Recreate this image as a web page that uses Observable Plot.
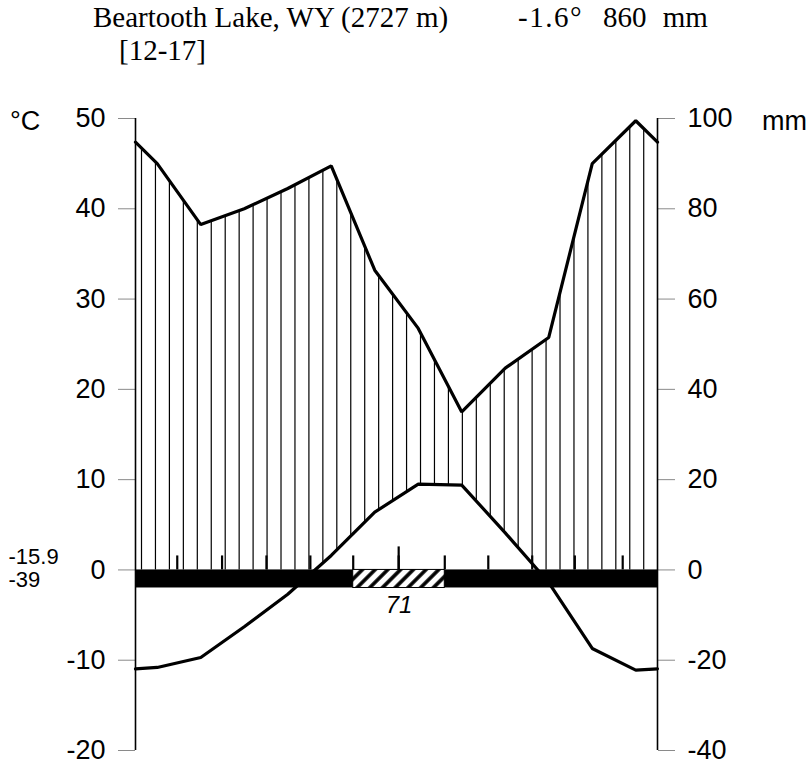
<!DOCTYPE html>
<html>
<head>
<meta charset="utf-8">
<script src="https://cdn.jsdelivr.net/npm/d3@7"></script>
<script src="https://cdn.jsdelivr.net/npm/@observablehq/plot@0.6"></script>
<style>
  html, body { margin: 0; padding: 0; background: #fff; }
  #wrap { position: relative; width: 810px; height: 765px; }
  .lbl { position: absolute; white-space: pre; line-height: 1; color: #000; }
  .serif { font-family: "Liberation Serif", "Times New Roman", serif; font-size: 29px; }
  .sans { font-family: "Liberation Sans", Arial, sans-serif; font-size: 27px; }
</style>
</head>
<body>
<div id="wrap">
  <div id="chart"></div>
</div>
<script>
// ---- data ----
const months = ["Jan","Feb","Mar","Apr","May","Jun","Jul","Aug","Sep","Oct","Nov","Dec"];
const tempC  = [-10.8, -9.7, -6.3, -2.7, 1.6, 6.4, 9.5, 9.4, 4.1, -1.4, -8.7, -11.1];
const precMm = [90, 76.5, 80, 84.5, 89.5, 66.4, 53.5, 35, 44.7, 51.5, 90, 99.5];
const tempTicks = [-20, -10, 0, 10, 20, 30, 40, 50];
const monthTicks = [0.96, 1.99, 3.01, 4.02, 5.005, 6.05, 7.11, 8.11, 9.12, 10.1, 11.2];
const tallTick = [6.05];
const probableFrost = [5.005, 7.11];           // hatched part of the frost bar (months)
const frostFreeLabel = "71";
const minLabels = ["-15.9", "-39"];
const stationTitle = "Beartooth Lake, WY (2727 m)";
const periodLabel = "[12-17]";
const meanTempLabel = "-1.6°";
const totalPrecLabel = "860 mm";

// ---- derived tables ----
const edgeT = (tempC[0] + tempC[11]) / 2;
const edgeP = (precMm[0] + precMm[11]) / 2;
const curveX = [0, ...months.map((m, i) => i + 0.5), 12];
const tempCurve = curveX.map((x, i) => ({x, v: i === 0 || i === 13 ? edgeT : tempC[i - 1]}));
const precCurve = curveX.map((x, i) => ({x, v: (i === 0 || i === 13 ? edgeP : precMm[i - 1]) / 2})); // 20 mm = 10 °C

function interp(curve, x) {
  for (let i = 0; i < curve.length - 1; i++) {
    const a = curve[i], b = curve[i + 1];
    if (x >= a.x && x <= b.x) return a.v + (b.v - a.v) * (x - a.x) / (b.x - a.x);
  }
  return curve[curve.length - 1].v;
}
// vertical hatching of the humid period
const hatch = [];
for (let x = 0.138; x <= 12.001; x += 0.3207) {
  const t = Math.max(0, interp(tempCurve, x)), p = interp(precCurve, x);
  if (p > t) hatch.push({x, t, p});
}
const bars = [{x1: 0, x2: 12}];
const probBar = [{x1: probableFrost[0], x2: probableFrost[1]}];

const plot = Plot.plot({
  width: 810,
  height: 765,
  marginLeft: 135,
  marginRight: 153,
  marginTop: 118,
  marginBottom: 15,
  x: {domain: [0, 12], axis: null},
  y: {domain: [-20, 50], axis: null},
  style: {fontFamily: "Liberation Sans, Arial, sans-serif", fontSize: "27px", color: "black", background: "white", overflow: "visible"},
  marks: [
    Plot.ruleX(hatch, {x: "x", y1: "t", y2: "p", stroke: "black", strokeWidth: 1.2}),
    Plot.ruleX(monthTicks, {x: d => d, y1: 0, y2: 1.55, stroke: "black", strokeWidth: 2.2}),
    Plot.ruleX(tallTick, {x: d => d, y1: 0, y2: 2.55, stroke: "black", strokeWidth: 2.2}),
    Plot.rect(bars, {x1: "x1", x2: "x2", y1: -2, y2: 0, fill: "black"}),
    Plot.rect(probBar, {x1: "x1", x2: "x2", y1: -2, y2: 0, fill: "url(#frosthatch)", stroke: "black", strokeWidth: 1}),
    Plot.line(precCurve, {x: "x", y: "v", stroke: "black", strokeWidth: 3.2, strokeLinejoin: "miter"}),
    Plot.line(tempCurve, {x: "x", y: "v", stroke: "black", strokeWidth: 3.2, strokeLinejoin: "miter"}),
    Plot.axisY(tempTicks, {anchor: "left", tickSize: 17, tickPadding: 13, stroke: "#8a8a8a", fill: "black", fontSize: 27, tickFormat: d => String(d)}),
    Plot.axisY(tempTicks, {anchor: "right", tickSize: 17, tickPadding: 13, stroke: "#8a8a8a", fill: "black", fontSize: 27, tickFormat: d => String(d * 2)}),
    Plot.ruleX([0, 12], {x: d => d, y1: -20, y2: 50, stroke: "black", strokeWidth: 1.6}),
    Plot.text([minLabels[0]], {x: 0, y: 0, text: d => d, dx: -127, dy: -13, textAnchor: "start", lineAnchor: "middle", fontSize: 22}),
    Plot.text([minLabels[1]], {x: 0, y: 0, text: d => d, dx: -127, dy: 10, textAnchor: "start", lineAnchor: "middle", fontSize: 22}),
    Plot.text([frostFreeLabel], {x: (probableFrost[0] + probableFrost[1]) / 2, y: -2, text: d => d, dy: 17, lineAnchor: "middle", fontSize: 24, fontStyle: "italic"})
  ]
});

// hatch pattern for probable-frost months
const ns = "http://www.w3.org/2000/svg";
const defs = document.createElementNS(ns, "defs");
const pat = document.createElementNS(ns, "pattern");
pat.setAttribute("id", "frosthatch");
pat.setAttribute("patternUnits", "userSpaceOnUse");
pat.setAttribute("width", "9");
pat.setAttribute("height", "9");
pat.setAttribute("patternTransform", "rotate(45)");
const bg = document.createElementNS(ns, "rect");
bg.setAttribute("width", "9"); bg.setAttribute("height", "9"); bg.setAttribute("fill", "white");
const ln = document.createElementNS(ns, "line");
ln.setAttribute("x1", "2"); ln.setAttribute("y1", "0"); ln.setAttribute("x2", "2"); ln.setAttribute("y2", "9");
ln.setAttribute("stroke", "black"); ln.setAttribute("stroke-width", "3.6");
pat.appendChild(bg); pat.appendChild(ln); defs.appendChild(pat);
plot.insertBefore(defs, plot.firstChild);

document.getElementById("chart").appendChild(plot);

// ---- header and unit labels ----
const wrap = document.getElementById("wrap");
function addLabel(text, cls, left, top, extra) {
  const d = document.createElement("div");
  d.className = "lbl " + cls;
  d.textContent = text;
  d.style.left = left + "px";
  d.style.top = top + "px";
  if (extra) Object.assign(d.style, extra);
  wrap.appendChild(d);
}
addLabel(stationTitle, "serif", 93, 3);
addLabel(periodLabel, "serif", 119, 36);
addLabel(meanTempLabel, "serif", 518, 3, {letterSpacing: "1.5px"});
addLabel(totalPrecLabel, "serif", 603, 3, {wordSpacing: "9px"});
addLabel("°C", "sans", 10, 108);
addLabel("mm", "sans", 762, 108);
</script>
</body>
</html>
